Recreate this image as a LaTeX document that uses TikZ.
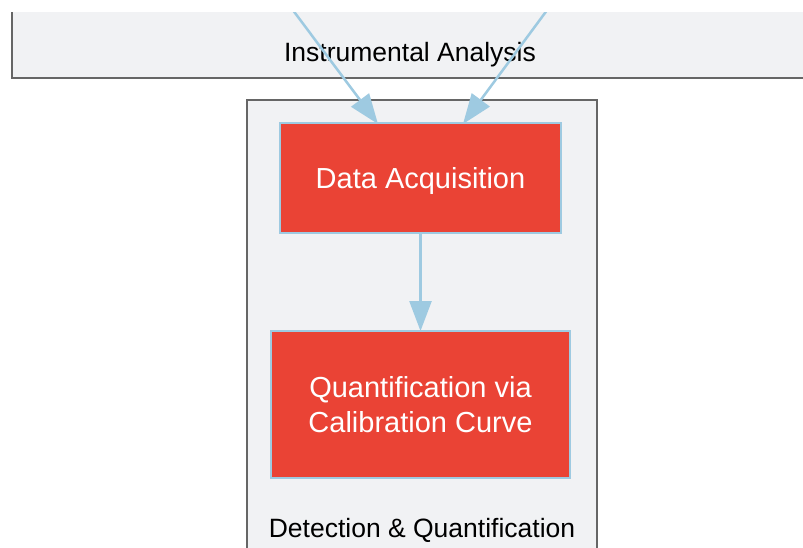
\documentclass[tikz,border=0pt]{standalone}
\usepackage{fontspec}
\setmainfont{Liberation Sans}
\usetikzlibrary{arrows.meta}
\definecolor{nodered}{HTML}{EA4335}
\definecolor{edgeblue}{HTML}{9ECAE1}
\definecolor{clusterfill}{HTML}{F1F2F4}
\definecolor{clusterline}{HTML}{666666}
\tikzset{
  procbox/.style={draw=edgeblue, line width=2.5pt, fill=nodered, text=white, align=center,
    font=\fontsize{29}{35}\selectfont, inner sep=0pt, outer sep=0pt},
  clusterbox/.style={draw=clusterline, line width=2.5pt, fill=clusterfill},
  clusterlabel/.style={text=black, font=\fontsize{26.5}{32}\selectfont, inner sep=0pt},
  flow/.style={draw=edgeblue, line width=2.5pt, -{Triangle[length=30pt,width=22pt]}}
}
\begin{document}
\begin{tikzpicture}[x=1pt,y=-1pt]
\useasboundingbox (0,0) rectangle (803,547);
\fill[white] (0,0) rectangle (803,547);
\begin{scope}
\clip (0,12) rectangle (803,547);
% top cluster
\fill[clusterfill] (12,0) rectangle (830,78);
\draw[clusterline, line width=2.5pt] (12,0) -- (12,78) -- (830,78);
\node[clusterlabel] (lblA) at (410,55) {Instrumental Analysis};
% lower cluster
\draw[clusterbox] (247,100) rectangle (597,580);
\node[clusterlabel] (lblB) at (422,530) {Detection \& Quantification};
% nodes
\node[procbox, minimum width=281pt, minimum height=110pt] (da) at (420.5,178) {\raisebox{-10.5pt}[0pt][0pt]{Data Acquisition}};
\node[procbox, minimum width=299pt, minimum height=147pt] (qc) at (420.5,404.5) {Quantification via\\Calibration Curve};
% connectors
\coordinate (s1) at (270.4,-20);
\coordinate (s2) at (569.3,-20);
\draw[flow] (s1) -- ([xshift=-42.5pt,yshift=-1pt]da.north);
\draw[flow] (s2) -- ([xshift=42.5pt,yshift=-1pt]da.north);
\draw[flow] (da.south) -- (qc.north);
\end{scope}
\end{tikzpicture}
\end{document}
